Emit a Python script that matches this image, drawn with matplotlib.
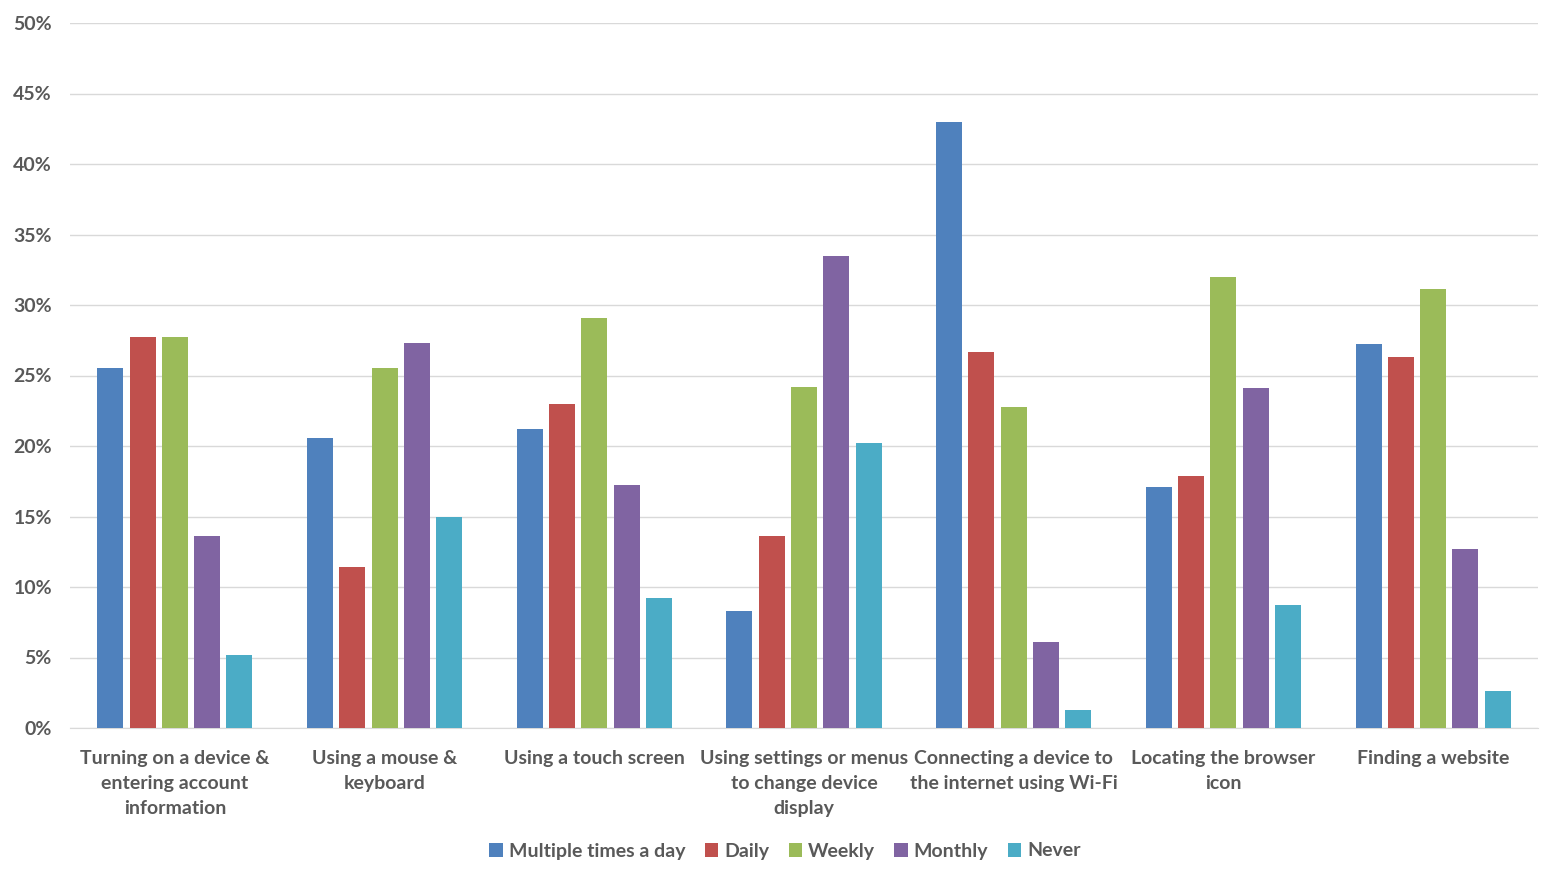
import numpy as np
import matplotlib
matplotlib.use("Agg")
import matplotlib.pyplot as plt

#Chart data
categories = ["Turning on a device &\nentering account\ninformation",
              "Using a mouse &\nkeyboard",
              "Using a touch screen",
              "Using settings or menus\nto change device\ndisplay",
              "Connecting a device to\nthe internet using Wi-Fi",
              "Locating the browser\nicon",
              "Finding a website"]
series = ["Multiple times a day", "Daily", "Weekly", "Monthly", "Never"]
multiple = [25.5, 20.6, 21.2, 8.3, 43.0, 17.1, 27.2]
daily = [27.7, 11.4, 23.0, 13.6, 26.7, 17.9, 26.3]
weekly = [27.7, 25.5, 29.1, 24.2, 22.8, 32.0, 31.1]
monthly = [13.6, 27.3, 17.2, 33.5, 6.1, 24.1, 12.7]
never = [5.2, 15.0, 9.2, 20.2, 1.3, 8.7, 2.6]
colors = ["#4F81BD", "#C0504D", "#9BBB59", "#8064A2", "#4BACC6"]

plt.rcParams['font.family'] = ['Lato', 'DejaVu Sans']
text_color = "#595959"

fig = plt.figure(figsize=(15.62, 8.82), dpi=100)
ax = fig.add_axes([70/1562, 1-728/882, 1468/1562, 705/882])

#Grouped bars
x = np.arange(len(categories))
pitch = 0.154
width = 0.124
for i, vals in enumerate([multiple, daily, weekly, monthly, never]):
    ax.bar(x + (i - 2) * pitch, vals, width, color=colors[i], label=series[i], zorder=3)

ax.set_xlim(-0.5, len(categories) - 0.5)
ax.set_ylim(0, 50)
ax.set_yticks(np.arange(0, 51, 5))
ax.set_yticklabels([f"{v}%" for v in range(0, 51, 5)])
ax.set_xticks(x)
ax.set_xticklabels(categories, linespacing=1.55)
ax.grid(axis='y', color="#D9D9D9", linewidth=1, zorder=0)
for s in ["top", "right", "left"]:
    ax.spines[s].set_visible(False)
ax.spines["bottom"].set_color("#D9D9D9")
ax.tick_params(axis='both', length=0, labelsize=14, labelcolor=text_color)
ax.tick_params(axis='x', pad=16)
ax.tick_params(axis='y', pad=13)
for lab in ax.get_xticklabels() + ax.get_yticklabels():
    lab.set_fontweight('bold')

#Legend below the plot
fig.legend(loc='center', bbox_to_anchor=(785/1562, 1-851/882), ncol=5, frameon=False,
           prop={'size': 14, 'weight': 'bold'}, handlelength=0.7, handleheight=0.7,
           handletextpad=0.3, columnspacing=1.0, labelcolor=text_color)

fig.savefig("out.png", dpi=100)
